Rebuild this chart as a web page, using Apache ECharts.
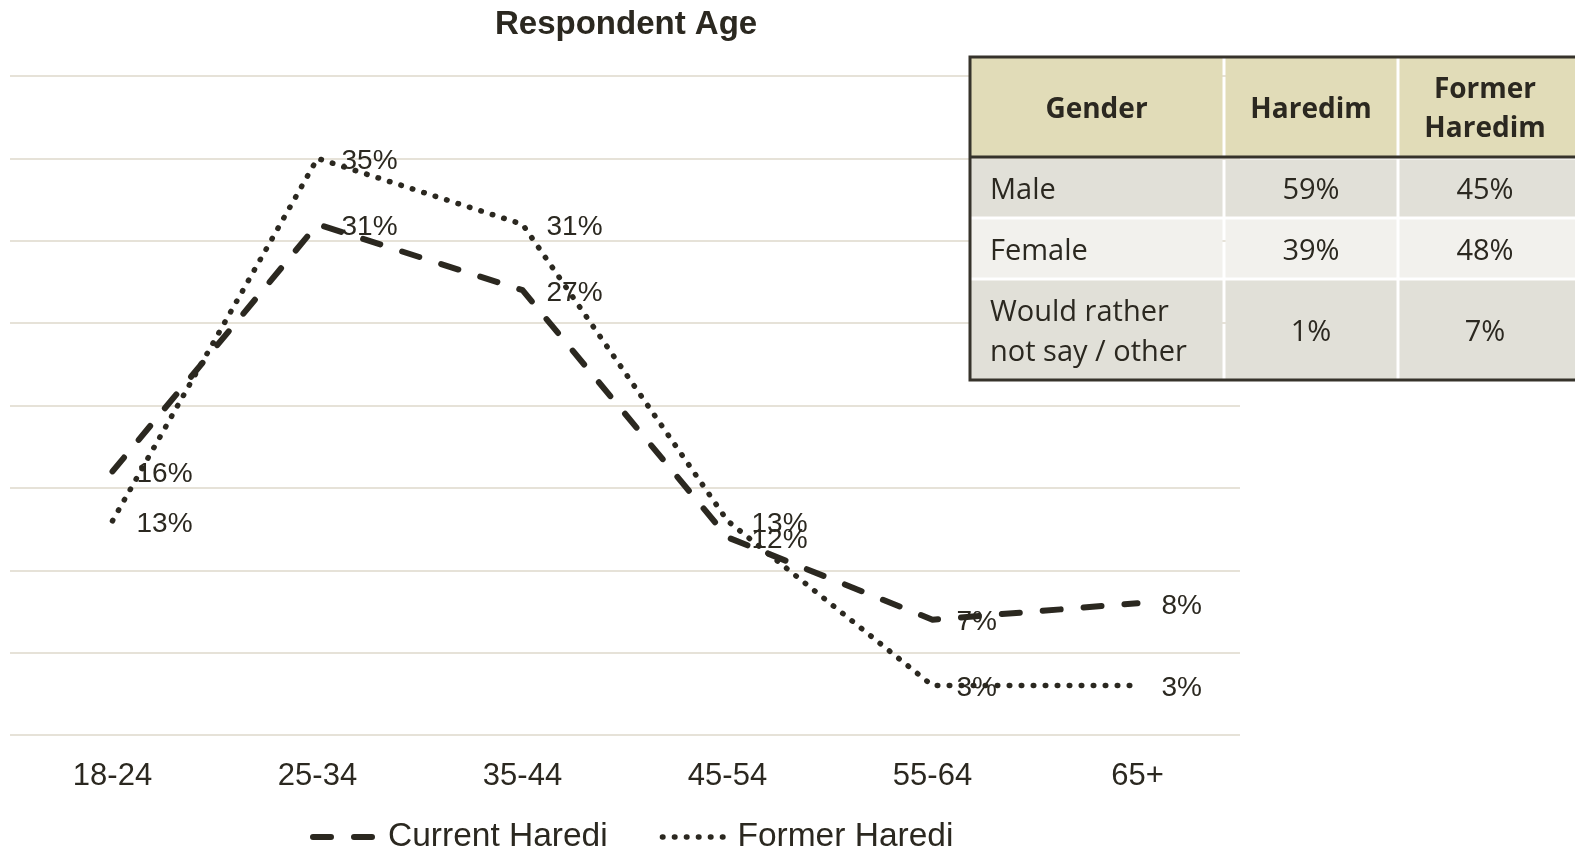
<!DOCTYPE html>
<html>
<head>
<meta charset="utf-8">
<script src="https://cdn.jsdelivr.net/npm/echarts@6/dist/echarts.min.js"></script>
<style>
html,body{margin:0;padding:0;background:#fff;}
#chart{width:1575px;height:854px;}
</style>
</head>
<body>
<div id="chart"></div>
<script>
const categories = ['18-24', '25-34', '35-44', '45-54', '55-64', '65+'];
const currentHaredi = [16, 31, 27, 12, 7, 8];
const formerHaredi = [13, 35, 31, 13, 3, 3];
const seriesNames = ['Current Haredi', 'Former Haredi'];

const tableHeader = ['Gender', 'Haredim', 'Former\nHaredim'];
const tableRows = ['Male', 'Female', 'Would rather\nnot say / other'];
const tableHaredim = ['59%', '39%', '1%'];
const tableFormer = ['45%', '48%', '7%'];

const INK = '#2b2820';
const DASH = [18, 23];
const DOT = [0.5, 11.5];
const chart = echarts.init(document.getElementById('chart'));

// table layout
const colX = [969, 1224, 1398, 1578];
const rowY = [56, 158, 218, 279, 381];
const rowBg = ['#e1dcb8', '#e1e0d8', '#f2f1ed', '#e1e0d8'];
const graphics = [];
for (let r = 0; r < 4; r++) {
  for (let c = 0; c < 3; c++) {
    graphics.push({
      type: 'rect', z: 10,
      shape: { x: colX[c] + 1.5, y: rowY[r] + 1.5, width: colX[c + 1] - colX[c] - 3, height: rowY[r + 1] - rowY[r] - 3 },
      style: { fill: rowBg[r] }
    });
    let txt, align, x;
    if (r === 0) txt = tableHeader[c];
    else if (c === 0) txt = tableRows[r - 1];
    else if (c === 1) txt = tableHaredim[r - 1];
    else txt = tableFormer[r - 1];
    if (r > 0 && c === 0) { align = 'left'; x = colX[0] + 21; }
    else { align = 'center'; x = c === 2 ? 1485 : (colX[c] + colX[c + 1]) / 2; }
    graphics.push({
      type: 'text', z: 11,
      x: x, y: (rowY[r] + rowY[r + 1]) / 2 + 3,
      style: {
        text: txt, fill: INK, align: align, verticalAlign: 'middle',
        font: (r === 0 ? 'bold 28px' : '29px') + ' "Open Sans", sans-serif',
        lineHeight: r === 0 ? 39 : 40
      }
    });
  }
}
// outer dark border
graphics.push({ type: 'rect', z: 12, shape: { x: 970, y: 57, width: 620, height: 323 }, style: { fill: 'none', stroke: '#36332b', lineWidth: 3 } });
graphics.push({ type: 'line', z: 12, shape: { x1: 970, y1: 157, x2: 1578, y2: 157 }, style: { stroke: '#36332b', lineWidth: 3 } });

function mkSeries(name, data, dash, width) {
  return {
    name: name, type: 'line', data: data,
    symbol: 'circle', symbolSize: 0.1,
    itemStyle: { color: INK },
    lineStyle: { color: INK, width: width, type: dash, cap: 'round', join: 'round' },
    label: {
      show: true, position: 'right', distance: 24, offset: [0, 3],
      formatter: '{c}%', color: INK,
      fontFamily: '"Liberation Sans", Arial, sans-serif', fontSize: 28
    },
    z: 3
  };
}

chart.setOption({
  animation: false,
  backgroundColor: '#fff',
  title: {
    text: 'Respondent Age', left: 490, top: 3,
    textStyle: { color: INK, fontFamily: '"Liberation Sans", Arial, sans-serif', fontSize: 33, fontWeight: 'bold' }
  },
  grid: { left: 10, right: 335, top: 76, bottom: 119, containLabel: false },
  legend: {
    top: 815, left: 305, itemWidth: 67, itemHeight: 20, itemGap: 52,
    itemStyle: { opacity: 0 },
    data: [
      { name: seriesNames[0], itemStyle: { opacity: 0 }, lineStyle: { width: 6, type: DASH, cap: 'round', color: INK } },
      { name: seriesNames[1], itemStyle: { opacity: 0 }, lineStyle: { width: 5.5, type: DOT, cap: 'round', color: INK } }
    ],
    textStyle: { color: INK, fontFamily: '"Liberation Sans", Arial, sans-serif', fontSize: 33.5, padding: [0, 0, 0, 3] }
  },
  xAxis: {
    type: 'category', data: categories, boundaryGap: true,
    axisLine: { show: false }, axisTick: { show: false },
    axisLabel: { color: INK, fontFamily: '"Liberation Sans", Arial, sans-serif', fontSize: 31, margin: 26 }
  },
  yAxis: {
    type: 'value', min: 0, max: 40, interval: 5,
    axisLabel: { show: false }, axisLine: { show: false }, axisTick: { show: false },
    splitLine: { lineStyle: { color: '#e6e2d8', width: 2 } }
  },
  series: [
    mkSeries(seriesNames[0], currentHaredi, DASH, 6),
    mkSeries(seriesNames[1], formerHaredi, DOT, 5.5)
  ],
  graphic: graphics
});
</script>
</body>
</html>
